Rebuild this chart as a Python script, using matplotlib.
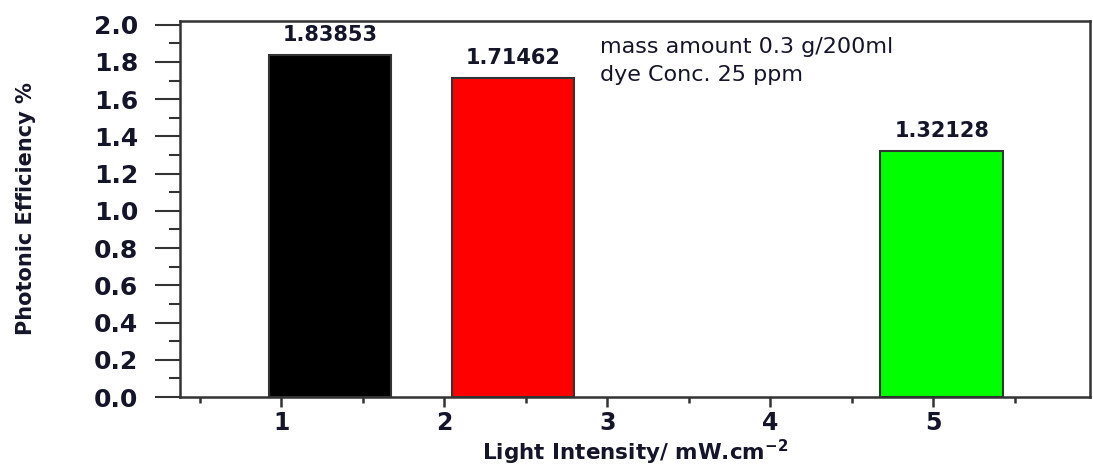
import matplotlib
matplotlib.use("Agg")
import matplotlib.pyplot as plt
from matplotlib.ticker import MultipleLocator

# Photonic efficiency at each light intensity setting
bar_positions = [1.30, 2.42, 5.05]
efficiency = [1.83853, 1.71462, 1.32128]
bar_colors = ["#000000", "#ff0000", "#00ff00"]
value_labels = ["1.83853", "1.71462", "1.32128"]
x_ticks = [1, 2, 3, 4, 5]
y_ticks = [0.0, 0.2, 0.4, 0.6, 0.8, 1.0, 1.2, 1.4, 1.6, 1.8, 2.0]
conditions = ["mass amount 0.3 g/200ml", "dye Conc. 25 ppm"]

plt.rcParams["font.family"] = ["DejaVu Sans"]
text_color = "#15152a"
axis_color = "#333333"

fig = plt.figure(figsize=(10.93, 4.66), dpi=100)
ax = fig.add_axes([0.1647, 0.148, 0.9973 - 0.1647, 0.955 - 0.148])

ax.bar(bar_positions, efficiency, width=0.75, color=bar_colors,
       edgecolor=axis_color, linewidth=1.5, zorder=2)

for x, v, s in zip(bar_positions, efficiency, value_labels):
    ax.annotate(s, (x, v), xytext=(0, 7), textcoords="offset points",
                ha="center", va="bottom", fontsize=15, fontweight="bold",
                color=text_color)

ax.text(0.461, 0.93, conditions[0], transform=ax.transAxes, fontsize=16,
        color=text_color, ha="left", va="center")
ax.text(0.461, 0.855, conditions[1], transform=ax.transAxes, fontsize=16,
        color=text_color, ha="left", va="center")

ax.set_xlim(0.38, 5.96)
ax.set_ylim(0, 2.02)
ax.set_xticks(x_ticks)
ax.set_yticks(y_ticks)
ax.set_yticklabels([f"{t:.1f}" for t in y_ticks])
ax.xaxis.set_minor_locator(MultipleLocator(0.5))
ax.yaxis.set_minor_locator(MultipleLocator(0.1))

ax.tick_params(axis="y", which="major", direction="out", length=18, width=1.5,
               pad=12, colors=axis_color, labelcolor=text_color, labelsize=18)
ax.tick_params(axis="y", which="minor", direction="out", length=8, width=1.5,
               colors=axis_color)
ax.tick_params(axis="x", which="major", direction="out", length=7, width=1.8,
               pad=3, colors=axis_color, labelcolor=text_color, labelsize=17)
ax.tick_params(axis="x", which="minor", direction="out", length=4, width=1.8,
               colors=axis_color)
for lbl in ax.get_xticklabels() + ax.get_yticklabels():
    lbl.set_fontweight("bold")

for sp in ax.spines.values():
    sp.set_color(axis_color)
    sp.set_linewidth(1.8)

ax.set_ylabel("Photonic Efficiency %", fontsize=15, fontweight="bold",
              color=text_color)
ax.yaxis.set_label_coords(-0.158, 0.5)
ax.set_xlabel(r"Light Intensity/ mW.cm$^{\mathbf{-2}}$", fontsize=15.5,
              fontweight="bold", color=text_color)
ax.xaxis.set_label_coords(0.5, -0.108)

fig.savefig("out.png", dpi=100)
